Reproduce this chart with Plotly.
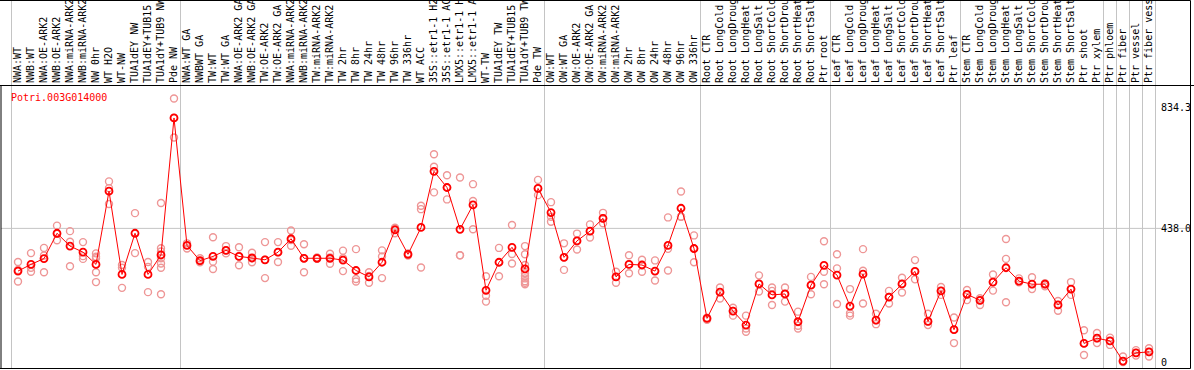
import plotly.graph_objects as go

# ---------------- data ----------------
gene = "Potri.003G014000"

group_labels = [
    ["NWA:WT", "NWB:WT", "NWA:OE-ARK2", "NWB:OE-ARK2", "NWA:miRNA-ARK2", "NWB:miRNA-ARK2",
     "NW 0hr", "WT H2O", "WT-NW", "TUA1dEY NW", "TUA1dEY+TUB15", "TUA1dY+TUB9 NW", "Pde NW"],
    ["NWA:WT GA", "NWBWT GA", "TW:WT", "TW:WT GA", "NWA:OE-ARK2 GA", "NWB:OE-ARK2 GA",
     "TW:OE-ARK2", "TW:OE-ARK2 GA", "NWA:miRNA-ARK2", "NWB:miRNA-ARK2", "TW:miRNA-ARK2",
     "TW:miRNA-ARK2", "TW 2hr", "TW 8hr", "TW 24hr", "TW 48hr", "TW 96hr", "TW 336hr",
     "WT ACC", "35S::etr1-1 H2", "35S::etr1-1 AC", "LMX5::etr1-1 H", "LMX5::etr1-1 A",
     "WT-TW", "TUA1dEY TW", "TUA1dEY+TUB15", "TUA1dY+TUB9 TW", "Pde TW"],
    ["OW:WT", "OW:WT GA", "OW:OE-ARK2", "OW:OE-ARK2 GA", "OW:miRNA-ARK2", "OW:miRNA-ARK2",
     "OW 2hr", "OW 8hr", "OW 24hr", "OW 48hr", "OW 96hr", "OW 336hr"],
    ["Root CTR", "Root LongCold", "Root LongDroug", "Root LongHeat", "Root LongSalt",
     "Root ShortCold", "Root ShortDrou", "Root ShortHeat", "Root ShortSalt", "Ptr root"],
    ["Leaf CTR", "Leaf LongCold", "Leaf LongDroug", "Leaf LongHeat", "Leaf LongSalt",
     "Leaf ShortCold", "Leaf ShortDrou", "Leaf ShortHeat", "Leaf ShortSalt", "Ptr leaf"],
    ["Stem CTR", "Stem LongCold", "Stem LongDroug", "Stem LongHeat", "Stem LongSalt",
     "Stem ShortCold", "Stem ShortDrou", "Stem ShortHeat", "Stem ShortSalt", "Ptr shoot",
     "Ptr xylem"],
    ["Ptr phloem"],
    ["Ptr fiber"],
    ["Ptr vessel"],
    ["Ptr fiber vess"],
]

means = [
    298, 320, 339, 422, 380, 360, 320, 560, 287, 422, 287, 351, 800,
    382, 332, 346, 366, 346, 341, 335, 360, 404, 340, 340, 340, 334, 300, 279, 327,
    433, 353, 441, 625, 572, 435, 515, 235, 327, 376, 305, 569,
    490, 343, 397, 429, 471, 279, 320, 318, 298, 382, 504, 372,
    143, 229, 167, 121, 256, 220, 223, 132, 252, 317,
    285, 183, 288, 137, 213, 256, 297, 133, 233, 106,
    222, 202, 262, 309, 265, 255, 255, 187, 239, 61, 78,
    69, 3, 30, 33,
]

replicates = [
    [328, 302, 264], [357, 309, 296], [374, 349, 294], [447, 420, 399], [429, 394, 314],
    [393, 347, 338], [356, 345, 340, 294, 262], [592, 570, 518], [318, 309, 243], [488, 357],
    [328, 312, 229], [521, 373, 362, 340, 323, 309, 222], [864, 800, 736],
    [389, 372], [340, 327, 330], [409, 329, 305], [380, 366, 356], [376, 346, 317],
    [358, 340, 327], [393, 335, 275], [393, 360, 328], [431, 400, 381], [386, 340, 294],
    [343, 340, 338], [355, 343, 322], [365, 340, 298], [370, 272, 264], [294, 282, 260],
    [366, 346, 275], [440, 436, 422], [356, 349], [512, 501, 310], [681, 640, 556],
    [612, 572, 533], [605, 350, 350], [583, 528, 435], [281, 217, 198], [374, 327, 281],
    [449, 354, 323], [380, 353, 318, 291, 282, 274, 265, 260, 255], [597, 569, 547],
    [524, 476, 460], [389, 343, 302], [421, 397, 369], [451, 429, 408], [489, 471, 455],
    [296, 279, 260], [350, 320, 291], [335, 318, 296], [333, 298, 267], [474, 371, 300],
    [559, 476, 476], [415, 372, 327],
    [145, 143, 138], [244, 229, 208], [178, 167, 152], [152, 110, 99], [284, 256, 231],
    [244, 233, 187], [244, 223, 198], [165, 119, 110], [279, 252, 222], [396, 296, 255],
    [353, 307, 190], [239, 160, 152], [370, 299, 192], [158, 137, 124], [233, 213, 192],
    [276, 256, 228], [334, 297, 271], [158, 133, 121], [246, 233, 220], [146, 106, 62],
    [236, 222, 203], [209, 202, 187], [287, 262, 234], [403, 338, 196], [274, 265, 261],
    [278, 255, 239], [258, 255, 248], [200, 187, 168], [262, 239, 220], [104, 61, 23],
    [95, 78, 62], [80, 69, 56], [18, 3, 0], [39, 30, 21], [45, 33, 18],
]

y_ticks = [0, 438.0, 834.3]
y_tick_text = ["0", "438.0", "834.3"]
grid_value = 438.0

# ---------------- layout helpers ----------------
W, H = 1194, 370
MONO = "DejaVu Sans Mono"
labels = [l for g in group_labels for l in g]
n = len(labels)
idx = list(range(n))

def py(p):  # pixel row -> paper y
    return (H - p) / H

# x: category i centred at pixel 18 + 13 i
x_range = [(0 - 18) / 13, (W - 18) / 13]
# y: value 0 at pixel 362, 834.3 at pixel 107.5
k = (362 - 107.5) / 834.3
plot_top, plot_bot = 85, 370
y_range = [(362 - plot_bot) / k, (362 - plot_top) / k]

rx, ry = [], []
for i, reps in enumerate(replicates):
    for v in reps:
        rx.append(i)
        ry.append(v)

fig = go.Figure()
fig.add_trace(go.Scatter(
    x=rx, y=ry, mode="markers",
    marker=dict(symbol="circle-open", size=7, color="rgb(238,150,150)",
                line=dict(width=1.4)),
    hoverinfo="skip", showlegend=False, cliponaxis=False))
fig.add_trace(go.Scatter(
    x=idx, y=means, mode="lines+markers",
    line=dict(color="#ff0000", width=1),
    marker=dict(symbol="circle-open", size=7, color="#ff0000",
                line=dict(width=1.8)),
    showlegend=False, cliponaxis=False))

shapes = []
# group separators
bounds = [-0.5]
c = 0
for g in group_labels:
    c += len(g)
    bounds.append(c - 0.5)
for b in bounds:
    shapes.append(dict(type="line", xref="x", yref="paper", x0=b, x1=b, y0=py(369), y1=1,
                       line=dict(color="#c4c4c4", width=1), layer="below"))
# horizontal guide
shapes.append(dict(type="line", xref="paper", yref="y", x0=1 / W, x1=1190 / W,
                   y0=grid_value, y1=grid_value,
                   line=dict(color="#c4c4c4", width=1), layer="below"))
# black frame
blk = dict(color="black", width=1)
shapes += [
    dict(type="line", xref="paper", yref="paper", x0=0, x1=1190.5 / W, y0=py(0.5), y1=py(0.5), line=blk),
    dict(type="line", xref="paper", yref="paper", x0=0, x1=1, y0=py(85.5), y1=py(85.5), line=blk),
    dict(type="line", xref="paper", yref="paper", x0=0, x1=1190.5 / W, y0=py(368.5), y1=py(368.5), line=blk),
    dict(type="line", xref="paper", yref="paper", x0=1 / W, x1=1 / W, y0=py(368.5), y1=py(85.5), line=blk),
    dict(type="line", xref="paper", yref="paper", x0=1190.5 / W, x1=1190.5 / W, y0=py(368.5), y1=py(0.5), line=blk),
]

fig.update_layout(
    width=W, height=H,
    margin=dict(l=0, r=0, t=0, b=0, autoexpand=False),
    paper_bgcolor="white", plot_bgcolor="white",
    shapes=shapes,
    xaxis=dict(domain=[0, 1], range=x_range, side="top", automargin=False,
               tickmode="array", tickvals=idx, ticktext=labels, tickangle=-90,
               tickfont=dict(family=MONO, size=10, color="black"),
               ticks="", ticklabelstandoff=1,
               showgrid=False, zeroline=False, showline=False, fixedrange=True),
    yaxis=dict(domain=[0, py(plot_top)], range=y_range, automargin=False,
               anchor="free", position=1160 / W, side="right",
               tickmode="array", tickvals=y_ticks, ticktext=y_tick_text,
               tickfont=dict(family=MONO, size=10, color="black"),
               ticks="", showgrid=False, zeroline=False, showline=False, fixedrange=True),
    annotations=[dict(text=gene, xref="paper", yref="paper", x=9 / W, y=py(97),
                      xanchor="left", yanchor="middle", showarrow=False,
                      font=dict(family=MONO, size=10, color="#ff0000"))],
)

fig.write_html(
    "out.html",
    config={"displayModeBar": False, "staticPlot": True},
    post_script="document.body.style.margin='0';document.body.style.overflow='hidden';",
)
